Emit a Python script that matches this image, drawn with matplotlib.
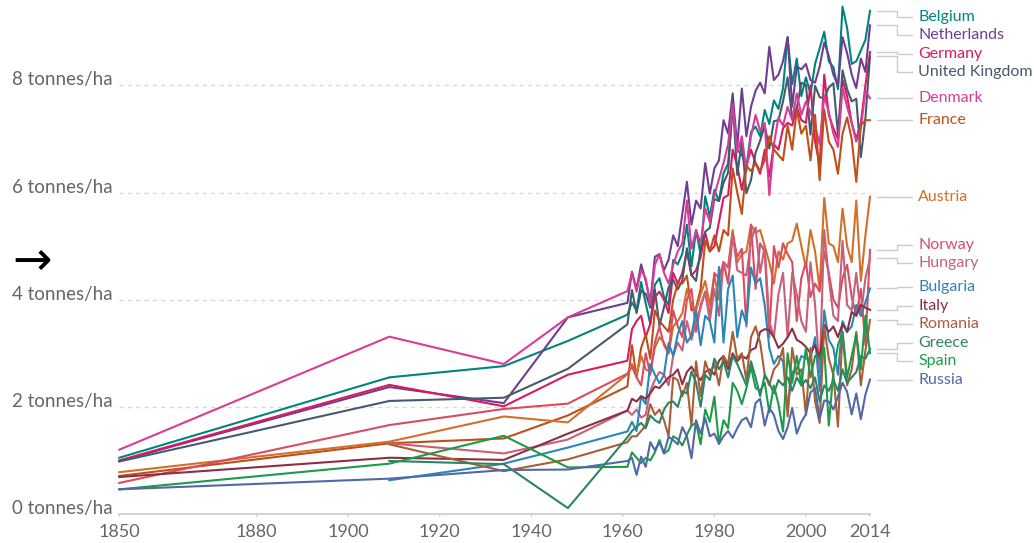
import matplotlib
matplotlib.use('Agg')
import matplotlib.pyplot as plt
import matplotlib.transforms as mtransforms

plt.rcParams['font.family'] = ['Lato', 'DejaVu Sans']

# years with long-run estimates, then the yearly FAO series
hist_years = [1850, 1909, 1934, 1948]
years = list(range(1961, 2015))

# wheat yields, tonnes per hectare (None = no estimate)
belgium_hist = [1.05, 2.55, 2.76, 3.23]
belgium = [3.72, 3.95, 3.80, 4.33, 3.93, 3.55, 4.28, 4.40, 4.05, 3.90,
           4.74, 4.66, 4.86, 5.40, 4.62, 5.30, 4.84, 5.93, 5.55, 6.05,
           5.84, 6.36, 6.54, 7.60, 6.80, 6.71, 6.48, 7.13, 7.23, 7.05,
           7.54, 7.28, 7.72, 7.56, 7.95, 8.90, 8.02, 8.50, 7.80, 8.15,
           7.84, 8.40, 8.69, 9.00, 8.45, 8.34, 7.93, 9.47, 9.07, 8.40,
           8.45, 8.65, 8.85, 9.39]

netherlands_hist = [0.99, 2.37, 2.07, 3.67]
netherlands = [3.94, 4.52, 4.20, 4.66, 4.35, 3.95, 4.80, 4.85, 4.55, 4.75,
               5.20, 5.00, 5.60, 6.20, 5.40, 5.85, 5.70, 6.55, 5.98, 6.45,
               6.60, 7.35, 7.10, 7.85, 6.85, 7.94, 7.05, 7.60, 7.90, 8.05,
               7.85, 8.72, 8.10, 8.20, 8.45, 8.90, 7.60, 8.35, 8.30, 8.40,
               8.10, 8.05, 8.35, 8.80, 8.55, 8.20, 8.00, 8.90, 8.60, 8.20,
               7.95, 8.50, 8.25, 9.12]

germany_hist = [1.00, 2.41, 2.01, 2.60]
germany = [2.86, 3.45, 3.60, 3.70, 3.30, 3.55, 4.05, 4.15, 4.00, 3.75,
           4.50, 4.30, 4.50, 4.90, 4.45, 4.55, 4.80, 5.25, 4.90, 5.00,
           5.45, 5.90, 5.95, 6.80, 6.50, 6.05, 6.50, 6.80, 6.55, 6.35,
           6.80, 6.30, 6.90, 6.80, 7.20, 7.30, 7.25, 7.60, 7.35, 7.30,
           8.00, 6.95, 6.50, 8.20, 7.45, 7.20, 7.00, 8.10, 7.80, 7.30,
           7.00, 7.30, 8.00, 8.62]

uk_hist = [0.98, 2.11, 2.17, 2.71]
uk = [3.54, 4.18, 3.75, 4.17, 4.11, 3.85, 4.19, 3.51, 3.86, 4.23,
      4.37, 4.19, 4.36, 4.96, 4.46, 4.35, 4.96, 5.27, 5.34, 5.88,
      5.84, 6.18, 6.37, 7.71, 6.33, 6.96, 5.99, 6.23, 6.74, 6.97,
      7.25, 6.82, 7.33, 7.35, 7.70, 8.15, 7.38, 7.56, 8.05, 8.01,
      7.08, 7.99, 7.78, 7.76, 7.96, 8.04, 7.09, 8.28, 7.93, 7.70,
      7.75, 6.66, 7.39, 8.54]

denmark_hist = [1.20, 3.31, 2.80, 3.67]
denmark = [4.16, 4.50, 4.15, 4.55, 4.40, 3.90, 4.65, 4.85, 4.50, 4.30,
           4.65, 4.90, 5.05, 5.85, 4.95, 5.30, 5.05, 5.70, 5.45, 5.95,
           6.25, 6.55, 6.90, 7.65, 6.75, 7.05, 6.40, 7.05, 7.45, 7.15,
           7.30, 5.95, 6.90, 7.40, 7.25, 7.60, 7.35, 7.85, 7.45, 7.70,
           7.50, 7.25, 6.90, 7.80, 7.50, 7.10, 6.85, 7.95, 7.60, 7.30,
           6.95, 7.20, 7.90, 7.76]

france_hist = [0.71, 1.32, 1.41, 1.84]
france = [2.38, 3.15, 2.55, 3.10, 3.35, 2.90, 3.80, 3.60, 3.50, 3.40,
          4.00, 4.30, 4.30, 4.45, 3.80, 3.85, 4.20, 5.10, 4.90, 5.20,
          4.90, 5.30, 5.20, 6.45, 6.00, 5.60, 6.50, 6.40, 6.55, 6.40,
          6.60, 7.05, 6.80, 6.70, 6.60, 7.25, 6.80, 7.55, 7.10, 7.25,
          6.60, 7.45, 6.23, 7.55, 6.95, 6.80, 6.35, 7.10, 7.40, 7.00,
          6.20, 7.25, 7.35, 7.35]

austria_hist = [0.78, 1.35, 1.82, 1.71]
austria = [2.61, 2.80, 2.60, 2.95, 2.70, 2.65, 3.10, 3.30, 3.20, 3.00,
           3.50, 3.60, 3.75, 4.20, 3.90, 3.80, 4.10, 4.35, 3.90, 4.45,
           4.00, 4.70, 4.60, 5.30, 4.70, 4.85, 4.90, 5.40, 5.25, 5.30,
           5.00, 4.70, 4.30, 4.90, 4.75, 5.05, 5.10, 5.42, 5.00, 4.60,
           5.30, 4.90, 4.20, 5.90, 5.05, 5.00, 4.70, 5.70, 5.00, 4.70,
           5.85, 4.35, 5.20, 5.92]

norway_hist = [0.58, 1.66, 1.96, 2.06]
norway = [2.62, 2.75, 2.55, 2.40, 3.00, 2.60, 3.20, 3.50, 3.15, 3.00,
          3.80, 3.50, 3.30, 4.00, 4.20, 3.40, 3.90, 4.15, 3.70, 4.50,
          4.40, 4.70, 4.30, 5.20, 4.80, 4.95, 3.50, 5.40, 4.20, 5.05,
          4.90, 3.30, 5.00, 4.60, 5.05, 4.85, 4.70, 3.60, 4.40, 4.70,
          4.05, 4.30, 4.15, 4.90, 4.50, 4.00, 3.85, 4.40, 4.65, 4.05,
          3.70, 4.20, 3.15, 4.93]

hungary_hist = [None, 1.32, 1.13, 1.39]
hungary = [1.93, 1.85, 1.95, 1.80, 1.85, 2.30, 2.50, 2.65, 2.60, 2.40,
           2.95, 3.20, 3.05, 3.60, 3.25, 3.60, 3.85, 4.15, 3.60, 4.20,
           3.70, 4.70, 4.60, 5.25, 4.55, 4.50, 4.45, 5.10, 5.35, 4.50,
           5.00, 3.60, 3.30, 4.10, 4.50, 3.30, 4.50, 4.10, 3.60, 3.40,
           4.70, 3.90, 2.65, 5.30, 4.40, 3.70, 3.60, 5.10, 3.90, 3.80,
           4.50, 3.70, 4.40, 4.77]

bulgaria_hist = [None, 0.63, 0.94, 1.24]
bulgaria = [1.54, 1.72, 1.55, 2.19, 2.05, 2.80, 2.60, 2.44, 2.60, 3.19,
            2.95, 3.35, 3.60, 3.20, 3.33, 3.80, 3.15, 3.70, 3.60, 3.20,
            4.61, 3.20, 4.20, 4.45, 3.30, 3.80, 3.55, 4.60, 4.30, 4.40,
            3.90, 3.10, 2.80, 2.95, 2.85, 1.94, 2.65, 2.70, 2.95, 2.90,
            2.90, 3.30, 2.30, 3.80, 3.25, 3.10, 2.60, 3.60, 3.40, 3.50,
            3.90, 3.70, 3.95, 4.21]

italy_hist = [0.69, 1.05, 1.01, 1.50]
italy = [1.93, 2.15, 2.10, 2.20, 2.15, 2.25, 2.38, 2.35, 2.45, 2.55,
         2.60, 2.70, 2.42, 2.65, 2.75, 2.60, 2.50, 2.65, 2.70, 2.60,
         2.86, 2.95, 2.70, 3.00, 2.85, 2.95, 2.90, 3.06, 3.10, 3.40,
         3.45, 3.43, 3.30, 3.10, 3.18, 3.30, 3.46, 3.25, 3.20, 3.12,
         3.00, 3.15, 2.90, 3.53, 3.40, 3.50, 3.30, 3.55, 3.40, 3.77,
         3.70, 3.90, 3.85, 3.81]

romania_hist = [None, 1.30, 0.80, 1.02]
romania = [1.34, 1.45, 1.45, 1.55, 1.65, 2.05, 1.85, 1.95, 1.75, 1.45,
           2.55, 2.50, 2.20, 2.45, 1.65, 2.85, 2.20, 2.85, 2.60, 2.80,
           2.40, 2.95, 2.80, 3.40, 2.90, 3.00, 2.50, 3.30, 3.50, 3.20,
           2.60, 2.40, 2.70, 2.80, 3.10, 1.82, 3.10, 2.60, 2.70, 1.85,
           3.10, 2.10, 1.70, 3.50, 2.90, 2.60, 1.63, 3.40, 2.40, 2.70,
           3.40, 2.40, 3.05, 3.62]

greece_hist = [None, 0.99, 0.93, 0.11]
greece = [1.43, 1.55, 1.63, 1.70, 1.60, 1.84, 1.75, 1.70, 1.95, 2.08,
          2.10, 2.00, 2.29, 2.25, 2.66, 2.45, 2.00, 2.60, 2.50, 2.90,
          2.70, 2.85, 2.55, 2.95, 2.80, 2.60, 2.40, 2.85, 2.55, 2.20,
          2.60, 2.45, 2.25, 2.50, 2.40, 2.55, 2.30, 2.55, 2.40, 2.50,
          2.35, 2.55, 2.10, 2.40, 2.30, 2.50, 2.30, 2.70, 2.45, 2.55,
          2.65, 2.95, 2.90, 3.08]

spain_hist = [0.46, 0.94, 1.46, 0.87]
spain = [0.88, 1.15, 1.05, 0.95, 1.05, 1.00, 1.15, 1.38, 1.13, 1.19,
         1.45, 1.40, 1.28, 1.48, 1.65, 1.70, 1.30, 1.95, 1.72, 2.19,
         1.31, 1.75, 1.60, 2.45, 2.30, 2.05, 2.35, 2.75, 2.35, 2.30,
         2.45, 1.90, 2.40, 2.05, 1.54, 3.00, 2.45, 2.95, 2.40, 3.10,
         2.55, 2.95, 2.90, 3.10, 1.65, 2.65, 3.15, 3.40, 2.55, 2.95,
         3.35, 2.70, 3.70, 3.00]

russia_hist = [0.46, 0.66, 0.82, 0.83]
russia = [0.99, 1.05, 0.73, 1.07, 0.88, 1.34, 1.19, 1.34, 1.13, 1.44,
          1.38, 1.30, 1.62, 1.45, 1.04, 1.75, 1.50, 1.79, 1.45, 1.50,
          1.31, 1.45, 1.55, 1.42, 1.60, 1.75, 1.80, 1.62, 2.07, 2.15,
          1.65, 1.98, 1.85, 1.55, 1.40, 1.62, 1.98, 1.50, 1.72, 1.86,
          2.27, 2.35, 1.78, 2.12, 2.10, 1.95, 2.19, 2.45, 2.28, 1.86,
          2.25, 1.77, 2.23, 2.51]

series = [
    ('Belgium', belgium_hist, belgium, '#00847e'),
    ('Netherlands', netherlands_hist, netherlands, '#6d3e91'),
    ('Germany', germany_hist, germany, '#d81b60'),
    ('United Kingdom', uk_hist, uk, '#465a6f'),
    ('Denmark', denmark_hist, denmark, '#d83c98'),
    ('France', france_hist, france, '#bf4f1a'),
    ('Austria', austria_hist, austria, '#d2702a'),
    ('Norway', norway_hist, norway, '#da4c62'),
    ('Hungary', hungary_hist, hungary, '#c8607a'),
    ('Bulgaria', bulgaria_hist, bulgaria, '#2a86b7'),
    ('Italy', italy_hist, italy, '#8a3040'),
    ('Romania', romania_hist, romania, '#a85e36'),
    ('Greece', greece_hist, greece, '#2c8467'),
    ('Spain', spain_hist, spain, '#1d9a4a'),
    ('Russia', russia_hist, russia, '#5069a8'),
]


def spread_labels(ends, gap, top):
    # group labels that would overlap and centre each group on its lines
    order = sorted(range(len(ends)), key=lambda i: -ends[i])
    groups = [[i] for i in order]

    def group_top(g):
        t = sum(ends[i] for i in g) / len(g) + gap * (len(g) - 1) / 2
        return min(t, top)

    merged = True
    while merged:
        merged = False
        for k in range(len(groups) - 1):
            low = group_top(groups[k]) - gap * (len(groups[k]) - 1)
            if low - group_top(groups[k + 1]) < gap:
                groups[k] = groups[k] + groups.pop(k + 1)
                merged = True
                break
    pos = {}
    for g in groups:
        t = group_top(g)
        for j, i in enumerate(g):
            pos[i] = t - j * gap
    return pos


fig = plt.figure(figsize=(10.34, 5.43), dpi=100)
ax = fig.add_axes([119.3 / 1034, 29 / 543, (870 - 119.3) / 1034, 509 / 543])
ax.set_xlim(1850, 2014)
ax.set_ylim(0, 9.5)
ax.axis('off')

grey_txt = '#666666'

for v in [2, 4, 6, 8]:
    ax.plot([1850, 2014], [v, v], color='#d9d9d9', lw=1, ls=(0, (3, 3)), zorder=1)
ax.plot([1850, 2014], [0, 0], color='#cccccc', lw=1.2, zorder=1, clip_on=False)

ylab_tr = mtransforms.blended_transform_factory(fig.transFigure, ax.transData)
for v in [0, 2, 4, 6, 8]:
    fig.text(12 / 1034, v, f'{v} tonnes/ha', transform=ylab_tr, ha='left',
             va='baseline', fontsize=13.5, color=grey_txt)

for yr in [1850, 1880, 1900, 1920, 1940, 1960, 1980, 2000, 2014]:
    ax.annotate('', xy=(yr, 0), xytext=(0, -5), textcoords='offset pixels',
                arrowprops=dict(arrowstyle='-', color='#cccccc', lw=1))
    ax.annotate(str(yr), xy=(yr, 0), xytext=(0, -10), textcoords='offset pixels',
                ha='center', va='top', fontsize=13, color=grey_txt)

ends = []
for name, hist, vals, col in series:
    xs = [y for y, v in zip(hist_years, hist) if v is not None] + years
    ys = [v for v in hist if v is not None] + vals
    ax.plot(xs, ys, color=col, lw=1.5, clip_on=False, zorder=3,
            solid_joinstyle='round')
    ends.append(vals[-1])

pos = spread_labels(ends, 0.345, 9.28)
for i, (name, hist, vals, col) in enumerate(series):
    y0, y1 = ends[i], pos[i]
    ax.plot([2015.5, 2019.8, 2019.8, 2023.2], [y0, y0, y1, y1],
            color='#cccccc', lw=1, clip_on=False)
    ax.text(2024.5, y1, name, ha='left', va='center', fontsize=11.5,
            color=col, clip_on=False)

fig.text(12 / 1034, 1 - 262 / 543, '\u2192', ha='left', va='center',
         fontsize=34, color='black', family=['DejaVu Sans'])

fig.savefig('out.png', dpi=100)
